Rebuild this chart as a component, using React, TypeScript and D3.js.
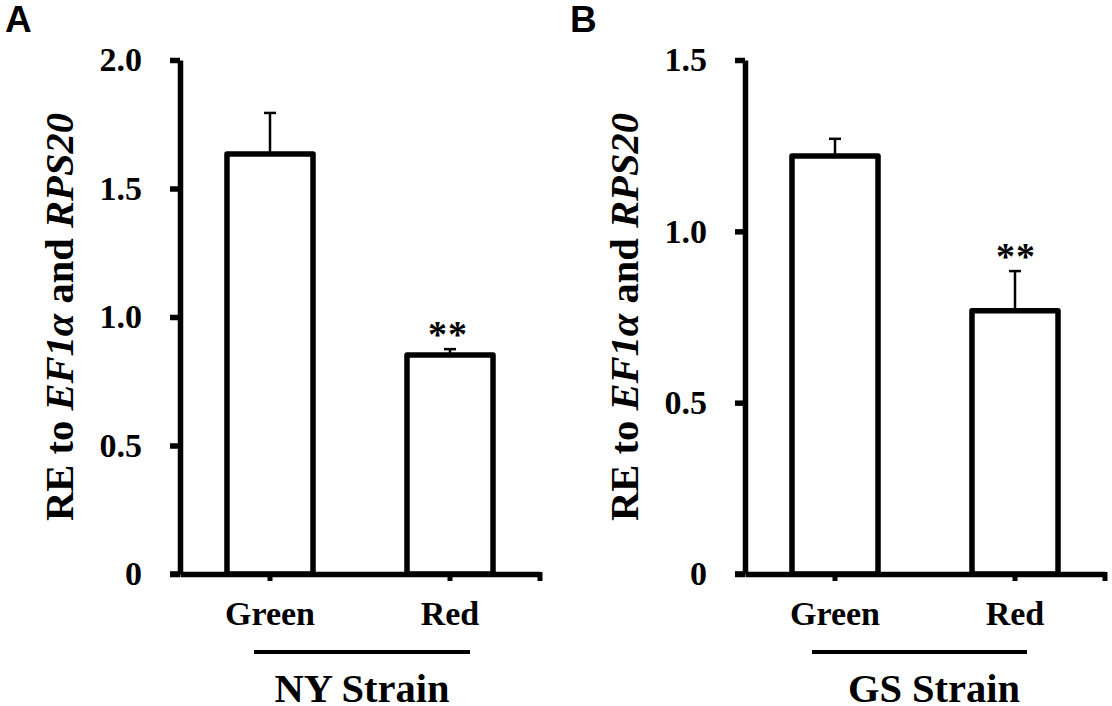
import { useEffect, useRef } from "react";
import * as d3 from "d3";

const categories = ["Green", "Red"];

const nyMeans = [1.634, 0.852];
const nyUpper = [1.794, 0.875];
const nyTicks = [0, 0.5, 1.0, 1.5, 2.0];

const gsMeans = [1.22, 0.768];
const gsUpper = [1.27, 0.884];
const gsTicks = [0, 0.5, 1.0, 1.5];

const SERIF = "'Liberation Serif', 'Times New Roman', serif";

interface PanelProps {
  letter: string;
  strain: string;
  means: number[];
  upper: number[];
  ticks: number[];
  offset: number;
  ruleX: [number, number];
  strainX: number;
  starShift: number;
}

function Panel({ letter, strain, means, upper, ticks, offset, ruleX, strainX, starShift }: PanelProps) {
  const ref = useRef<SVGGElement>(null);

  useEffect(() => {
    if (!ref.current) return;
    const g = d3.select(ref.current);
    g.selectAll("*").remove();

    const yMax = d3.max(ticks) ?? 1;
    const y = d3.scaleLinear().domain([0, yMax]).range([574, 60]);
    const x = d3.scaleBand().domain(categories).range([180, 540]).paddingInner(0.522).paddingOuter(0.261);
    const center = (c: string) => (x(c) ?? 0) + x.bandwidth() / 2;

    // error bars sit behind the bars
    const rows = categories.map((c, i) => ({ c, mean: means[i], top: upper[i] }));
    const err = g.append("g").attr("stroke", "#000").attr("stroke-width", 2.5);
    err.selectAll("line.stem").data(rows).join("line").attr("class", "stem")
      .attr("x1", (d) => center(d.c)).attr("x2", (d) => center(d.c))
      .attr("y1", (d) => y(d.mean)).attr("y2", (d) => y(d.top));
    err.selectAll("line.cap").data(rows).join("line").attr("class", "cap")
      .attr("x1", (d) => center(d.c) - 6).attr("x2", (d) => center(d.c) + 6)
      .attr("y1", (d) => y(d.top)).attr("y2", (d) => y(d.top));

    g.append("g").selectAll("rect").data(rows).join("rect")
      .attr("x", (d) => x(d.c) ?? 0)
      .attr("y", (d) => y(d.mean))
      .attr("width", x.bandwidth())
      .attr("height", (d) => y(0) - y(d.mean))
      .attr("fill", "#fff")
      .attr("stroke", "#000")
      .attr("stroke-width", 5.5)
      .attr("stroke-linejoin", "round");

    // y axis
    const yAxis = g.append("g").attr("transform", "translate(180,0)").call(
      d3.axisLeft(y).tickValues(ticks).tickSize(10).tickPadding(28)
        .tickSizeOuter(0)
        .tickFormat((d) => (+d === 0 ? "0" : d3.format(".1f")(+d)))
    );
    yAxis.select(".domain").attr("stroke", "#000").attr("stroke-width", 5.5);
    yAxis.selectAll(".tick line").attr("stroke", "#000").attr("stroke-width", 5.5);
    yAxis.selectAll("text")
      .attr("fill", "#000")
      .style("font-family", SERIF)
      .style("font-weight", "bold")
      .style("font-size", "34px");

    // x axis
    const xAxis = g.append("g").attr("transform", "translate(0,574)").call(
      d3.axisBottom(x).tickSize(7).tickSizeOuter(0).tickPadding(20)
    );
    xAxis.select(".domain").attr("stroke", "#000").attr("stroke-width", 5.5);
    xAxis.selectAll(".tick line").attr("stroke", "#000").attr("stroke-width", 5);
    xAxis.selectAll("text")
      .attr("fill", "#000")
      .style("font-family", SERIF)
      .style("font-weight", "bold")
      .style("font-size", "34px");
    xAxis.append("line")
      .attr("x1", x.range()[1]).attr("x2", x.range()[1])
      .attr("y1", -2).attr("y2", 7)
      .attr("stroke", "#000").attr("stroke-width", 5);
    g.append("line")
      .attr("x1", 170).attr("x2", 180).attr("y1", 574).attr("y2", 574)
      .attr("stroke", "#000").attr("stroke-width", 5.5);

    // significance stars on the Red bar
    g.append("text")
      .attr("x", center("Red") + starShift)
      .attr("y", y(upper[1]) - 2)
      .attr("text-anchor", "middle")
      .attr("letter-spacing", 1)
      .style("font-family", SERIF)
      .style("font-weight", "bold")
      .style("font-size", "38px")
      .text("**");
  }, [means, upper, ticks, starShift]);

  return (
    <g transform={`translate(${offset},0)`}>
      <g ref={ref} />
      <text x={5} y={32} fontFamily="'Liberation Sans', Arial, sans-serif" fontWeight="bold" fontSize={37} fill="#000">
        {letter}
      </text>
      <text
        transform="translate(73,317) rotate(-90)"
        textAnchor="middle"
        fontFamily={SERIF}
        fontWeight="bold"
        fontSize={40.6}
        fill="#000"
      >
        RE to <tspan fontStyle="italic">EF1α</tspan> and <tspan fontStyle="italic">RPS20</tspan>
      </text>
      <line x1={ruleX[0]} x2={ruleX[1]} y1={652} y2={652} stroke="#000" strokeWidth={4} />
      <text x={strainX} y={702} textAnchor="middle" fontFamily={SERIF} fontWeight="bold" fontSize={40.5} fill="#000">
        {strain}
      </text>
    </g>
  );
}

export default function App() {
  return (
    <svg
      width={1112}
      height={706}
      style={{ position: "absolute", left: 0, top: 0, background: "#fff" }}
    >
      <Panel letter="A" strain="NY Strain" means={nyMeans} upper={nyUpper} ticks={nyTicks} offset={0} ruleX={[254, 470]} strainX={362} starShift={-2} />
      <Panel letter="B" strain="GS Strain" means={gsMeans} upper={gsUpper} ticks={gsTicks} offset={565} ruleX={[247, 462]} strainX={369} starShift={1} />
    </svg>
  );
}
